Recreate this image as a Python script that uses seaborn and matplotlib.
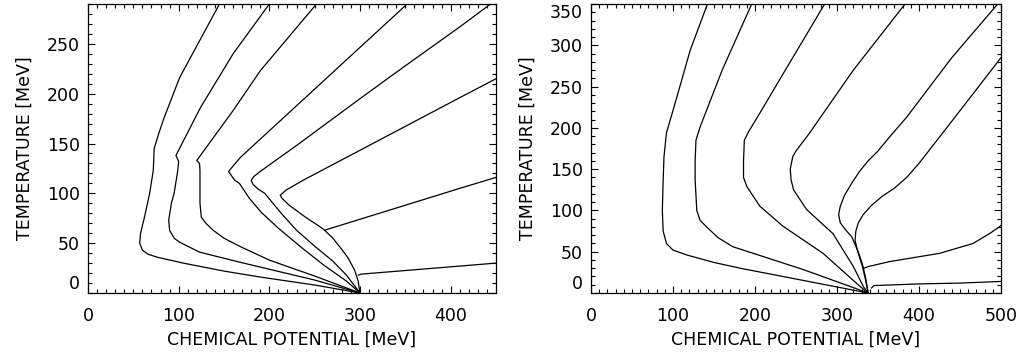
import matplotlib
matplotlib.use("Agg")
import matplotlib.pyplot as plt
import seaborn as sns
from matplotlib.ticker import MultipleLocator

# ---- left panel: chemical potential [MeV] / temperature [MeV], one list per curve ----
left_mu = [
    [145, 101, 84, 78, 73, 72, 68, 62, 58, 57, 60, 66, 76, 105, 150, 190, 250, 300],
    [200, 160, 124, 97, 100, 99, 95, 92, 89, 90, 95, 101, 123, 167, 190, 250, 300],
    [252, 190, 160, 120, 123, 123.5, 123.5, 125, 130, 138, 150, 167, 200, 250, 300],
    [352, 168, 155, 158, 162, 167, 178, 191, 210, 235, 260, 285, 300],
    [444, 410, 350, 300, 230, 190, 183, 180, 182, 188, 195, 204, 215, 230, 250, 270, 285, 300],
    [450, 410, 237, 218, 212, 214, 222, 240, 255, 261, 270, 278, 287, 294, 298, 300],
    [261, 410, 450],
    [298, 302, 410, 450],
]
left_T = [
    [290, 216, 176, 160, 145, 123, 100, 75, 60, 50, 43, 39, 36, 30, 22, 16, 8, 0],
    [290, 240, 186, 138, 132, 123, 100, 90, 73, 63, 55, 51, 41, 31, 26, 13, 0],
    [290, 223, 183, 133, 130, 123, 90, 76, 70, 63, 55, 47, 33, 17, 0],
    [290, 136, 122, 118, 113, 110, 95, 81, 65, 46, 28, 12, 0],
    [290, 267, 228, 195, 148, 122, 117, 113, 109, 104, 100, 90, 78, 63, 47, 32, 18, 0],
    [215, 196, 113, 103, 98, 95, 88, 76, 67, 63, 55, 46, 35, 23, 12, 0],
    [63, 105, 116],
    [18, 19, 27, 30],
]

# ---- right panel ----
right_mu = [
    [142, 121, 100, 92, 89, 88, 87, 88, 92, 100, 117, 150, 182, 260, 338],
    [196, 160, 133, 128, 127, 127, 129, 133, 141, 155, 173, 198, 260, 338],
    [285, 243, 206, 192, 187, 186, 186, 190, 206, 234, 283, 328, 338],
    [383, 320, 266, 250, 246, 243, 244, 247, 263, 295, 320, 332, 338],
    [496, 440, 385, 365, 350, 338, 328, 318, 309, 304, 302, 304, 310, 318, 325, 331, 335, 338],
    [500, 440, 400, 385, 370, 355, 342, 332, 326, 323, 322, 324, 327, 331, 335, 338],
    [333, 338, 364, 425, 466, 486, 498, 500],
    [342, 345, 400, 450, 500],
]
right_T = [
    [350, 294, 221, 194, 165, 137, 100, 75, 60, 52, 46, 37, 30, 15, 0],
    [350, 270, 201, 185, 160, 137, 100, 88, 80, 67, 56, 48, 28, 0],
    [350, 280, 218, 195, 185, 160, 140, 129, 105, 81, 48, 8, 0],
    [350, 270, 193, 172, 165, 150, 137, 125, 101, 72, 32, 8, 0],
    [350, 285, 213, 190, 172, 160, 148, 133, 118, 105, 95, 85, 77, 68, 52, 35, 18, 0],
    [285, 208, 157, 140, 127, 117, 106, 95, 85, 75, 64, 55, 45, 32, 15, 0],
    [30, 32, 38, 48, 60, 72, 80, 82],
    [6, 9, 11, 12, 14],
]

sns.set_style("ticks")
plt.rcParams['font.family'] = ['DejaVu Sans']
plt.rcParams['axes.linewidth'] = 0.9
plt.rcParams['text.color'] = 'black'
plt.rcParams['axes.labelcolor'] = 'black'
plt.rcParams['xtick.color'] = 'black'
plt.rcParams['ytick.color'] = 'black'

fig = plt.figure(figsize=(10.21, 3.58), dpi=100)
ax_l = fig.add_axes([88 / 1021, 65 / 358, 408 / 1021, 289 / 358])
ax_r = fig.add_axes([591 / 1021, 65 / 358, 410 / 1021, 289 / 358])


def draw_panel(ax, mus, temps, xmax, ymax):
    for mu, t in zip(mus, temps):
        sns.lineplot(x=mu, y=t, sort=False, estimator=None, color='black',
                     lw=0.9, ax=ax)
    ax.set_xlim(0, xmax)
    ax.set_ylim(0, ymax)
    ax.xaxis.set_major_locator(MultipleLocator(100))
    ax.xaxis.set_minor_locator(MultipleLocator(10))
    ax.yaxis.set_major_locator(MultipleLocator(50))
    ax.yaxis.set_minor_locator(MultipleLocator(10))
    ax.tick_params(which='both', direction='in', top=True, right=True,
                   width=0.8, colors='black', labelsize=12.5)
    ax.tick_params(which='major', length=5)
    ax.tick_params(which='minor', length=2.8)
    ax.tick_params(axis='x', pad=10)
    ax.tick_params(axis='y', pad=6)
    ax.set_xlabel('CHEMICAL POTENTIAL [MeV]', fontsize=12.5, labelpad=4, color='black')
    ax.set_ylabel('TEMPERATURE [MeV]', fontsize=12.5, labelpad=9, color='black')
    for s in ax.spines.values():
        s.set_color('black')


draw_panel(ax_l, left_mu, left_T, 450, 290)
draw_panel(ax_r, right_mu, right_T, 500, 350)

# edge labels on the y axis sit inside the frame, like the original
fig.canvas.draw()
for ax in (ax_l, ax_r):
    ymin, ymax = ax.get_ylim()
    for tick in ax.yaxis.get_major_ticks():
        if abs(tick.get_loc() - ymin) < 1e-6:
            tick.label1.set_verticalalignment('bottom')
        elif abs(tick.get_loc() - ymax) < 1e-6:
            tick.label1.set_verticalalignment('top')

fig.savefig('out.png', dpi=100)
